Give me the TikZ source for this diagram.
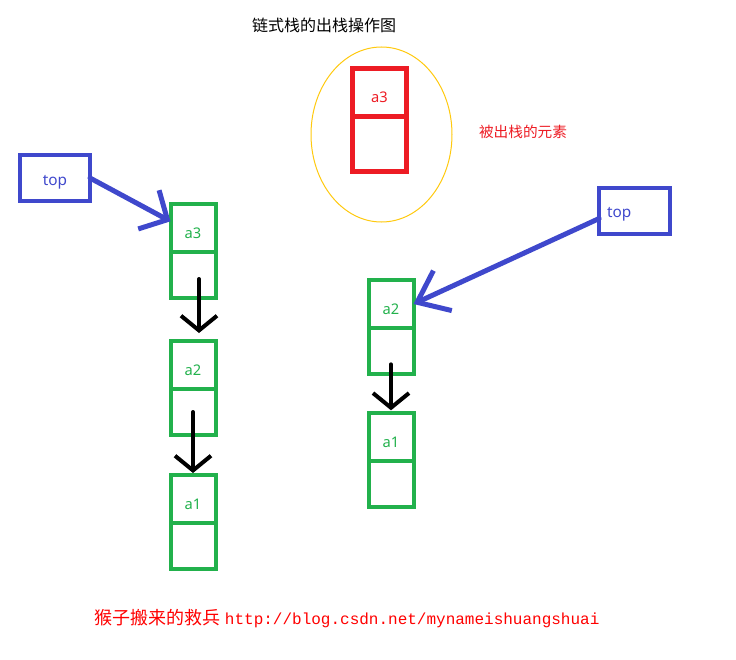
\documentclass[tikz,border=0pt]{standalone}
\usepackage{fontspec}
\usepackage{xcolor}
\usepackage{tikz}
\usetikzlibrary{positioning,arrows.meta,shapes.geometric}
\newfontfamily\cjkfont{Noto Sans CJK SC}
\newfontfamily\uifont{Noto Sans}
\setmonofont{Liberation Mono}
\definecolor{paintgreen}{HTML}{22B14C}
\definecolor{paintblue}{HTML}{3F48CC}
\definecolor{paintred}{HTML}{ED1C24}
\definecolor{paintyellow}{HTML}{FFC90E}
\tikzset{
  cell/.style={draw=paintgreen,text=paintgreen,line width=3pt,minimum width=33.75pt,
    inner sep=0pt,outer sep=0pt,font=\uifont\fontsize{11}{13}\selectfont},
  datacell/.style={cell,minimum height=36pt,text height=15pt,text depth=0pt},
  nextcell/.style={cell,minimum height=34.5pt},
  popcell/.style={draw=paintred,text=paintred,line width=3.75pt,minimum width=41pt},
  topbox/.style={draw=paintblue,text=paintblue,line width=3pt,minimum width=52.5pt,
    minimum height=34.5pt,outer sep=0pt,text height=11pt,text depth=0pt,
    font=\uifont\fontsize{11.5}{13}\selectfont},
  topptr/.style={draw=paintblue,line width=3.75pt,line cap=round,
    -{Straight Barb[length=#1,width=33pt]}},
  topptr/.default=16pt,
  linkptr/.style={draw=black,line width=3pt,line cap=round,
    -{Straight Barb[length=11pt,width=27pt]}},
  ring/.style={ellipse,draw=paintyellow,line width=0.75pt,minimum width=105.75pt,minimum height=131.25pt}
}
\begin{document}
\begin{tikzpicture}[x=0.75pt,y=-0.75pt]
  \useasboundingbox (0,0) rectangle (736,660);
  \node[font=\cjkfont\fontsize{12}{14}\selectfont] (title) at (324,25) {链式栈的出栈操作图};
  \node[ring] (ring) at (381.5,134.5) {};
  \node[datacell,popcell,anchor=north] (pa3) at (379.5,69) {a3\hspace{10pt}};
  \node[nextcell,popcell,minimum height=40.5pt,below=0pt of pa3] (pa3n) {};
  \node[text=paintred,font=\cjkfont\fontsize{11}{13}\selectfont] (poplabel) at (523,132) {被出栈的元素};
  \node[topbox] (ltop) at (55,178) {top};
  \node[datacell,anchor=north] (la3) at (193,204) {a3};
  \node[nextcell,below=0pt of la3] (la3n) {};
  \node[datacell,anchor=north] (la2) at (193,341) {a2};
  \node[nextcell,below=0pt of la2] (la2n) {};
  \node[datacell,anchor=north] (la1) at (193,475) {a1};
  \node[nextcell,below=0pt of la1] (la1n) {};
  \draw[topptr] (ltop.east) -- ([yshift=5pt]la3.west);
  \draw[linkptr,shorten >=6pt] ([xshift=4.5pt,yshift=-3pt]la3n.center) -- ([xshift=4.5pt]la2.north);
  \draw[linkptr,shorten >=1.5pt] (la2n.center) -- (la1.north);
  \node[topbox,align=left,text width=41pt,inner sep=6pt] (rtop) at (634.5,210.5) {top};
  \node[datacell,anchor=north] (ra2) at (391,280) {a2};
  \node[nextcell,below=0pt of ra2] (ra2n) {};
  \node[datacell,anchor=north] (ra1) at (391,413) {a1};
  \node[nextcell,below=0pt of ra1] (ra1n) {};
  \draw[topptr=21pt] ([yshift=-6pt]rtop.west) -- (ra2.east);
  \draw[linkptr,shorten >=2pt] ([yshift=-10pt]ra2n.center) -- (ra1.north);
  \node[text=red] (credit) at (347,619) {{\cjkfont\fontsize{13.5}{16}\selectfont 猴子搬来的救兵} {\ttfamily\fontsize{12}{14}\selectfont http://blog.csdn.net/mynameishuangshuai}};
\end{tikzpicture}
\end{document}
